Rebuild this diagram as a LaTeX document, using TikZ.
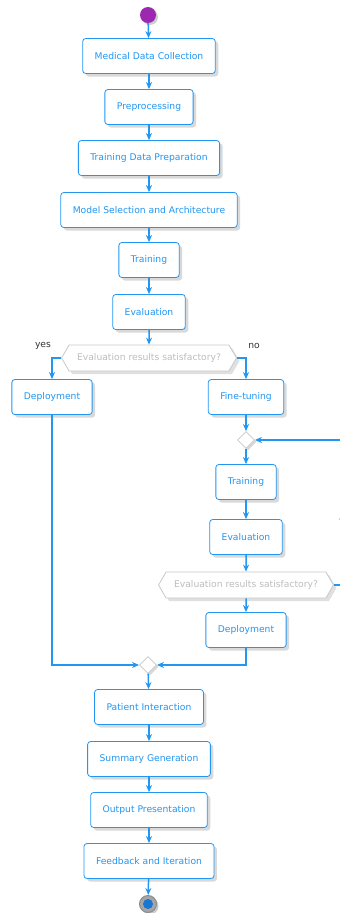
\documentclass[tikz,border=0pt]{standalone}
\usepackage{fontspec}
\setmainfont{DejaVu Sans}
\usetikzlibrary{arrows.meta,shapes.geometric,shapes.symbols,shadows,decorations.markings}

\definecolor{umlblue}{HTML}{2196F3}
\definecolor{umlpurple}{HTML}{9C27B0}
\definecolor{umlgrey}{HTML}{C8C8C8}
\definecolor{umltext}{HTML}{BDBDBD}
\definecolor{umlstop}{HTML}{1976D2}

\begin{document}
\begin{tikzpicture}[x=1pt, y=-1pt,
    every node/.style={font=\fontsize{9.2}{11}\selectfont},
    act/.style={draw=umlblue, fill=white, rounded corners=3pt, text=umlblue,
      minimum height=35pt, inner xsep=12pt, line width=0.8pt,
      general shadow={fill=black!15, shadow xshift=3pt, shadow yshift=-3pt}},
    check/.style={signal, signal to=west and east, signal pointer angle=120,
      draw=umlgrey, fill=white, text=umltext, minimum height=26pt, inner xsep=8pt,
      line width=0.8pt,
      general shadow={fill=black!12, shadow xshift=3pt, shadow yshift=-3pt}},
    merge/.style={diamond, draw=umlgrey, fill=white, minimum size=17pt, inner sep=0pt,
      line width=0.8pt,
      general shadow={fill=black!15, shadow xshift=2pt, shadow yshift=-2pt}},
    flow/.style={-{Stealth[length=7pt, width=6pt]}, umlblue, line width=1.5pt},
    lbl/.style={text=black!80}]

  \clip (0,0) rectangle (340,913);

  % Start and main column
  \node[circle, fill=umlpurple, minimum size=16pt, inner sep=0pt,
    general shadow={fill=black!20, shadow xshift=2pt, shadow yshift=-2pt}] (start) at (148,15) {};
  \node[act] (collect) at (149,56) {Medical Data Collection};
  \node[act] (prep)    at (149,107) {Preprocessing};
  \node[act] (data)    at (149,158) {Training Data Preparation};
  \node[act] (model)   at (149,210) {Model Selection and Architecture};
  \node[act] (train)   at (149,260) {Training};
  \node[act] (eval)    at (149,312) {Evaluation};
  \node[check] (check1) at (149,358) {Evaluation results satisfactory?};
  \node[lbl] (yes) at (43,346) {yes};
  \node[lbl] (no)  at (254,346) {no};

  % Branches
  \node[act] (deploy1) at (52,397) {Deployment};
  \node[act] (tune)    at (246,397) {Fine-tuning};
  \node[merge] (merge1) at (246,440) {};
  \node[act] (train2)  at (246,482) {Training};
  \node[act] (eval2)   at (246,537) {Evaluation};
  \node[check] (check2) at (246,585) {Evaluation results satisfactory?};
  \node[act] (deploy2) at (246,630) {Deployment};
  \node[merge] (merge2) at (148,665) {};

  % End column
  \node[act] (patient) at (149,707) {Patient Interaction};
  \node[act] (summary) at (149,759) {Summary Generation};
  \node[act] (output)  at (149,810) {Output Presentation};
  \node[act] (feedback) at (149,861) {Feedback and Iteration};
  \node[circle, draw=black!45, fill=black!35, line width=1pt, minimum size=17pt, inner sep=0pt,
    general shadow={fill=black!20, shadow xshift=2pt, shadow yshift=-2pt}] (stop) at (148,904) {};
  \node[circle, fill=umlstop, minimum size=10pt, inner sep=0pt] (stopdot) at (stop) {};

  % Loop corners
  \coordinate (loopbot) at (344,585);
  \coordinate (looptop) at (344,440);

  % Arrows
  \draw[flow] (start) -- (collect);
  \draw[flow] (collect) -- (prep);
  \draw[flow] (prep) -- (data);
  \draw[flow] (data) -- (model);
  \draw[flow] (model) -- (train);
  \draw[flow] (train) -- (eval);
  \draw[flow] (eval) -- (check1);
  \draw[flow] (check1.west) -| (deploy1);
  \draw[flow] (check1.east) -| (tune);
  \draw[flow] (tune) -- (merge1);
  \draw[flow] (merge1) -- (train2);
  \draw[flow] (train2) -- (eval2);
  \draw[flow] (eval2) -- (check2);
  \draw[flow] (check2) -- (deploy2);
  \draw[umlblue, line width=1.5pt] (check2.east) -- (loopbot);
  \draw[umlblue, line width=1.5pt, postaction={decorate, decoration={markings,
    mark=at position 0.5 with {\arrow{Stealth[length=7pt, width=10pt]}}}}] (loopbot) -- (looptop);
  \draw[flow] (looptop) -- (merge1.east);
  \draw[flow] (deploy1.south) |- (merge2.west);
  \draw[flow] (deploy2.south) |- (merge2.east);
  \draw[flow] (merge2) -- (patient);
  \draw[flow] (patient) -- (summary);
  \draw[flow] (summary) -- (output);
  \draw[flow] (output) -- (feedback);
  \draw[flow] (feedback) -- (stop);
\end{tikzpicture}
\end{document}
